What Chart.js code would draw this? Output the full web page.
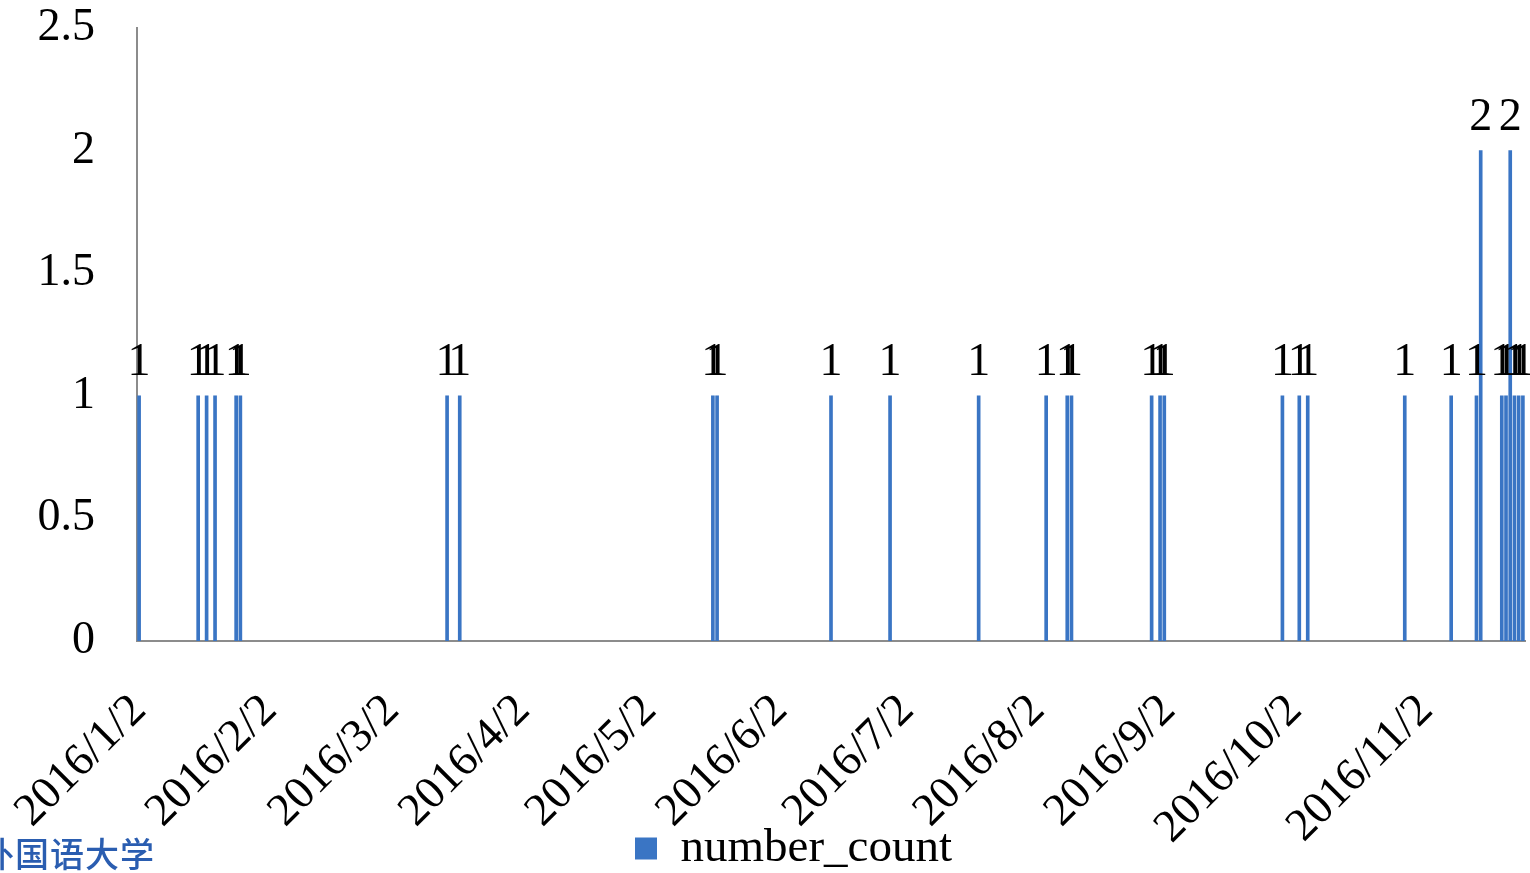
<!DOCTYPE html>
<html>
<head>
<meta charset="utf-8">
<script src="https://cdn.jsdelivr.net/npm/chart.js@4.4.1/dist/chart.umd.min.js"></script>
<style>
  html, body { margin: 0; padding: 0; background: #fff; overflow: hidden; }
  #wrap { position: relative; width: 1530px; height: 873px; }
  #mark { position: absolute; left: -20px; top: 828px; font-family: "Noto Sans CJK SC"; font-size: 34px; font-weight: 500; color: #2a5db0; letter-spacing: 1px; white-space: nowrap; }
</style>
</head>
<body>
<div id="wrap">
  <canvas id="c" width="1530" height="873"></canvas>
  <div id="mark">外国语大学</div>
</div>
<script>
// ---- data ----
const dates = [
  "2016/1/2", "2016/1/16", "2016/1/18", "2016/1/20", "2016/1/25", "2016/1/26",
  "2016/3/15", "2016/3/18",
  "2016/5/17", "2016/5/18",
  "2016/6/14", "2016/6/28",
  "2016/7/19",
  "2016/8/4", "2016/8/9", "2016/8/10", "2016/8/29", "2016/8/31",
  "2016/9/1", "2016/9/29",
  "2016/10/3", "2016/10/5", "2016/10/28",
  "2016/11/8", "2016/11/14", "2016/11/15", "2016/11/20", "2016/11/21",
  "2016/11/22", "2016/11/23", "2016/11/24", "2016/11/25"
];
const numberCount = [
  1, 1, 1, 1, 1, 1,
  1, 1,
  1, 1,
  1, 1,
  1,
  1, 1, 1, 1, 1,
  1, 1,
  1, 1, 1,
  1, 1, 2, 1, 1,
  2, 1, 1, 1
];
const tickLabels = [
  "2016/1/2", "2016/2/2", "2016/3/2", "2016/4/2", "2016/5/2", "2016/6/2",
  "2016/7/2", "2016/8/2", "2016/9/2", "2016/10/2", "2016/11/2"
];
const yTickLabels = ["0", "0.5", "1", "1.5", "2", "2.5"];
const seriesName = "number_count";

// ---- helpers ----
function dayOf(s) {
  const p = s.split("/").map(Number);
  return Date.UTC(p[0], p[1] - 1, p[2]) / 86400000;
}
const origin = dayOf(dates[0]);
const points = dates.map((d, i) => ({ x: dayOf(d) - origin, y: numberCount[i] }));
const tickValues = tickLabels.map(t => dayOf(t) - origin);
const xMin = points[0].x - 0.5;
const xMax = points[points.length - 1].x + 0.5;
const yTickValues = yTickLabels.map(Number);

const FONT = '"Liberation Serif", "Times New Roman", serif';
Chart.defaults.font.family = FONT;
Chart.defaults.font.size = 46;
Chart.defaults.color = "#000";

const valueLabels = {
  id: "valueLabels",
  afterDatasetsDraw(chart) {
    const ctx = chart.ctx;
    const meta = chart.getDatasetMeta(0);
    ctx.save();
    ctx.font = "46px " + FONT;
    ctx.fillStyle = "#000";
    ctx.textAlign = "center";
    ctx.textBaseline = "alphabetic";
    meta.data.forEach((el, i) => {
      const v = chart.data.datasets[0].data[i].y;
      ctx.fillText(String(v), el.x, el.y - 21);
    });
    ctx.restore();
  }
};

const placeBoxes = {
  id: "placeBoxes",
  afterLayout(chart) {
    const lg = chart.legend;
    if (lg) {
      lg.left += 31; lg.right += 31;
      lg.top += 9; lg.bottom += 9;
    }
    const xs = chart.scales.x;
    xs.bottom = chart.height;
  }
};

new Chart(document.getElementById("c"), {
  type: "bar",
  data: {
    datasets: [{
      label: seriesName,
      data: points,
      backgroundColor: "#3a75c4",
      borderWidth: 0,
      barThickness: 3
    }]
  },
  options: {
    responsive: false,
    animation: false,
    devicePixelRatio: 1,
    layout: { padding: { left: 0, right: 5, top: 28, bottom: 0 } },
    plugins: {
      tooltip: { enabled: false },
      legend: {
        position: "bottom",
        labels: {
          boxWidth: 22,
          boxHeight: 22,
          padding: 2,
          font: { size: 47, family: FONT },
          color: "#000"
        }
      }
    },
    scales: {
      x: {
        type: "linear",
        offset: false,
        min: xMin,
        max: xMax,
        grid: { display: false, drawTicks: false },
        border: { display: true, color: "#8c8c8c", width: 2 },
        afterBuildTicks(scale) {
          scale.ticks = tickValues.map(v => ({ value: v }));
        },
        afterFit(scale) {
          scale.height = 173;
          scale.paddingLeft = 0; scale.paddingRight = 0;
        },
        ticks: {
          autoSkip: false,
          minRotation: 45,
          maxRotation: 45,
          padding: 43,
          font: { size: 46, family: FONT },
          color: "#000",
          callback: (value, index) => tickLabels[index]
        }
      },
      y: {
        min: 0,
        max: 2.5,
        grid: { display: false, drawTicks: false },
        border: { display: true, color: "#8c8c8c", width: 2 },
        afterBuildTicks(scale) {
          scale.ticks = yTickValues.map(v => ({ value: v }));
        },
        afterFit(scale) {
          scale.width = 137;
          scale.paddingTop = 0; scale.paddingBottom = 0;
        },
        ticks: {
          padding: 42,
          font: { size: 46, family: FONT },
          color: "#000",
          callback: (value, index) => yTickLabels[index]
        }
      }
    }
  },
  plugins: [valueLabels, placeBoxes]
});
</script>
</body>
</html>
